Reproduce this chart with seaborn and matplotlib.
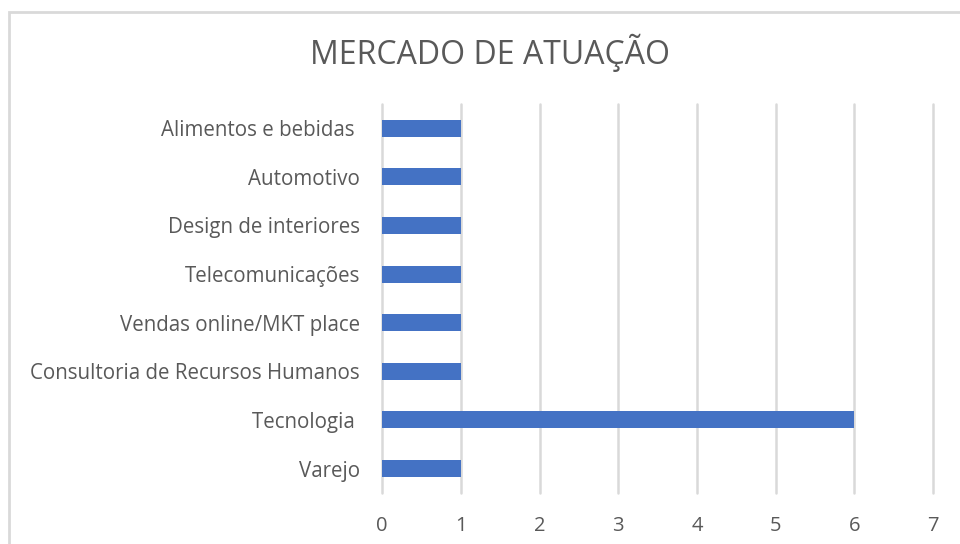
import matplotlib
matplotlib.use("Agg")
from matplotlib import pyplot as plt
from matplotlib.patches import Rectangle
import seaborn as sns
import pandas as pd

# data, top to bottom as in the chart
categories = [
    "Alimentos e bebidas ",
    "Automotivo",
    "Design de interiores",
    "Telecomunicações",
    "Vendas online/MKT place",
    "Consultoria de Recursos Humanos",
    "Tecnologia ",
    "Varejo",
]
counts = [1, 1, 1, 1, 1, 1, 6, 1]
x_ticks = [0, 1, 2, 3, 4, 5, 6, 7]

df = pd.DataFrame({"Mercado": categories, "Qtd": counts})

sns.set_theme(style="white")
plt.rcParams["font.family"] = ["Open Sans", "DejaVu Sans"]

text_color = "#595959"
grid_color = "#D9D9D9"

fig = plt.figure(figsize=(9.6, 5.44), dpi=100)
ax = fig.add_axes([0.398, 0.094, 0.574, 0.715])

sns.barplot(data=df, x="Qtd", y="Mercado", orient="h", color="#4472C4",
            saturation=1, width=0.35, linewidth=0, ax=ax, zorder=3)

ax.set_xlim(0, 7)
ax.set_ylim(7.5, -0.5)
ax.set_xticks(x_ticks)
ax.xaxis.grid(True, color=grid_color, linewidth=1.8, zorder=0)
for gl in ax.get_xgridlines():
    gl.set_clip_on(False)
ax.yaxis.grid(False)
for s in ax.spines.values():
    s.set_visible(False)
ax.tick_params(axis="x", length=0, pad=17, labelsize=14.5, labelcolor=text_color)
ax.tick_params(axis="y", length=0, pad=16, labelsize=14.8, labelcolor=text_color)
ax.set_xlabel("")
ax.set_ylabel("")

fig.text(0.51, 0.903, "MERCADO DE ATUAÇÃO", ha="center", va="center",
         fontsize=23, color=text_color)

# chart border, cut off on the right and bottom like the screenshot
fig.patches.append(Rectangle((9 / 960, -0.1), 1.2, 1 - 12 / 544 + 0.1,
                             transform=fig.transFigure, fill=False,
                             edgecolor=grid_color, linewidth=2))

fig.savefig("out.png", dpi=100)
